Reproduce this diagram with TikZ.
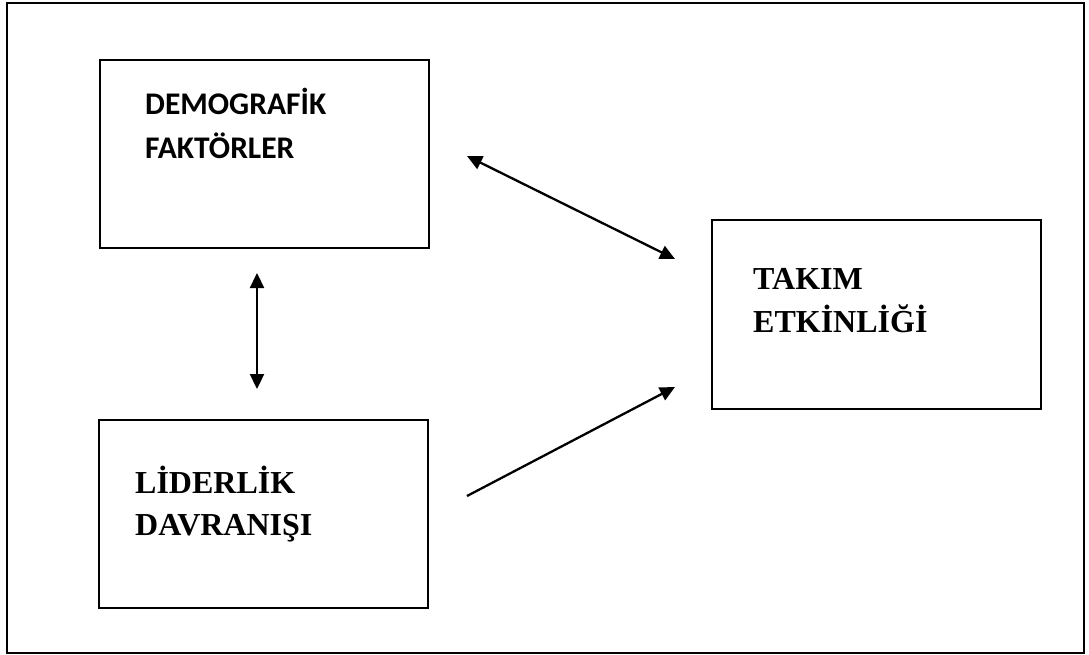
\documentclass[tikz,border=0pt]{standalone}
\usepackage{fontspec}
\setmainfont{Liberation Serif}
\newfontfamily\calib{Carlito}
\usetikzlibrary{arrows.meta}
\begin{document}
\begin{tikzpicture}[x=1pt,y=-1pt,
  boxstyle/.style={draw=black,line width=2.3pt},
  framestyle/.style={draw=black,line width=2.4pt},
  sanslabel/.style={anchor=base west,inner sep=0pt,font=\calib\bfseries\fontsize{31.5}{36}\selectfont},
  seriflabel/.style={anchor=base west,inner sep=0pt,font=\bfseries\fontsize{32}{37}\selectfont},
  conn/.style={line width=2.3pt,draw=black},
  tip/.tip={Triangle[length=15pt,width=14pt]}
]
\useasboundingbox (0,0) rectangle (1089,655);
\draw[framestyle] (7,3) rectangle (1084,653);
% boxes
\node[boxstyle,minimum width=329pt,minimum height=188pt,anchor=north west,inner sep=0pt] (demo) at (99,59) {};
\node[boxstyle,minimum width=329pt,minimum height=188pt,anchor=north west,inner sep=0pt] (lider) at (98,419) {};
\node[boxstyle,minimum width=329pt,minimum height=189pt,anchor=north west,inner sep=0pt] (takim) at (711,219) {};
% labels
\node[sanslabel] (demo1) at (145,115) {DEMOGRAFİK};
\node[sanslabel] (demo2) at (145,159) {FAKTÖRLER};
\node[seriflabel] (lider1) at (135,493) {LİDERLİK};
\node[seriflabel] (lider2) at (135,535) {DAVRANIŞI};
\node[seriflabel] (takim1) at (753,289) {TAKIM};
\node[seriflabel] (takim2) at (753,332) {ETKİNLİĞİ};
% connector ends
\coordinate (a1) at (467,156);
\coordinate (a2) at (675,259);
\coordinate (v1) at (257,273);
\coordinate (v2) at (257,389);
\coordinate (s1) at (467,496);
\coordinate (s2) at (675,387);
\draw[conn,{tip}-{tip}] (a1) -- (a2);
\draw[conn,{tip}-{tip}] (v1) -- (v2);
\draw[conn,-{tip}] (s1) -- (s2);
\end{tikzpicture}
\end{document}
